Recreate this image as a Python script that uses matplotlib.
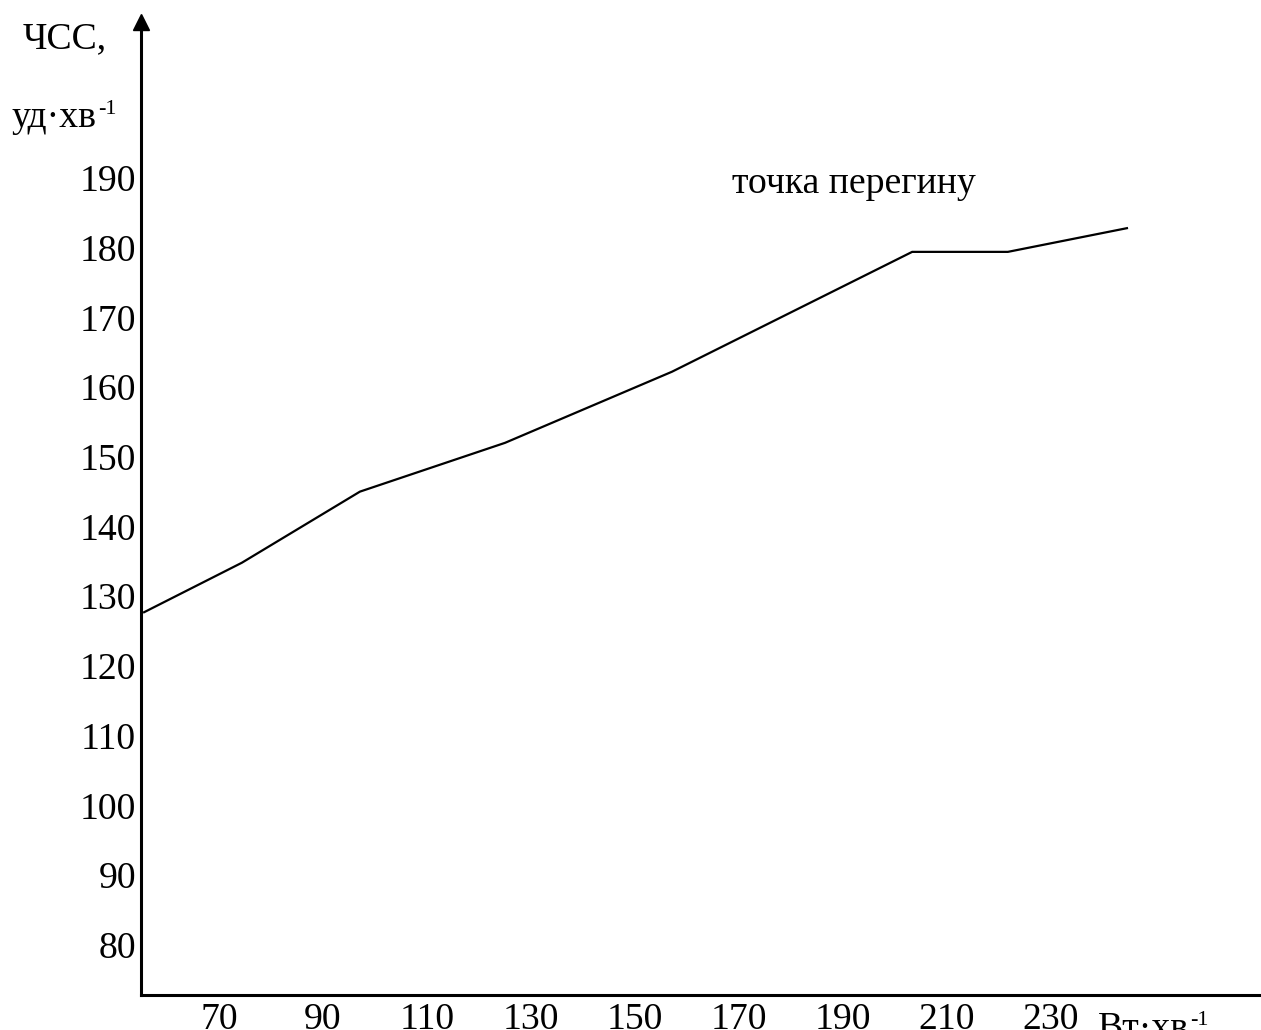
import matplotlib
matplotlib.use("Agg")
import matplotlib.pyplot as plt

# ---- data ----
load = [55.6, 74.4, 97.1, 125.0, 157.1, 203.3, 221.7, 244.6]      # Вт·хв-1
hr = [127.7, 134.8, 145.0, 152.0, 162.2, 179.4, 179.4, 182.8]      # уд·хв-1
x_ticks = [70, 90, 110, 130, 150, 170, 190, 210, 230]
y_ticks = [80, 90, 100, 110, 120, 130, 140, 150, 160, 170, 180, 190]
annot_text = "точка перегину"
annot_pos = (168.7, 187.85)

FONT = "Liberation Serif"
FS = 27.2
SUP = 16

plt.rcParams['font.family'] = [FONT, 'DejaVu Serif']

W, H = 1261, 1030
fig = plt.figure(figsize=(W / 100, H / 100), dpi=100)
left_px, bottom_px, top_px = 141, 995, 22
ax = fig.add_axes([left_px / W, (H - bottom_px) / H, 1 - left_px / W, (bottom_px - top_px) / H])
ax.set_xlim(55.0, 270.38)
ax.set_ylim(72.78, 212.38)

ax.plot(load, hr, color='black', lw=1.6, solid_joinstyle='miter')

for s in ['top', 'right']:
    ax.spines[s].set_visible(False)
for s in ['left', 'bottom']:
    ax.spines[s].set_linewidth(2.2)
    ax.spines[s].set_color('black')
ax.plot([0], [1], marker='^', markersize=11.5, color='black', transform=ax.transAxes, clip_on=False)

ax.set_xticks(x_ticks)
ax.set_xticklabels([str(v) for v in x_ticks])
ax.set_yticks(y_ticks)
ax.set_yticklabels([str(v) for v in y_ticks])
ax.tick_params(axis='both', length=0, labelsize=FS)
ax.tick_params(axis='y', pad=3.6)
ax.tick_params(axis='x', pad=5.5)

ax.text(annot_pos[0], annot_pos[1], annot_text, fontsize=FS, ha='left', va='baseline')

# axis labels with superscripts
def label_with_sup(xpx, ypx, main, sup):
    t = fig.text(xpx / W, 1 - ypx / H, main, fontsize=FS, ha='left', va='baseline')
    fig.canvas.draw()
    bb = t.get_window_extent()
    fig.text(bb.x1 / W + 1 / W, 1 - (ypx - 13) / H, sup, fontsize=SUP, ha='left', va='baseline')

fig.text(23 / W, 1 - 48 / H, "ЧСС,", fontsize=FS, ha='left', va='baseline')
label_with_sup(12, 127, "уд·хв", "-1")
label_with_sup(1098, 1038, "Вт·хв", "-1")

fig.savefig("out.png", dpi=100)
